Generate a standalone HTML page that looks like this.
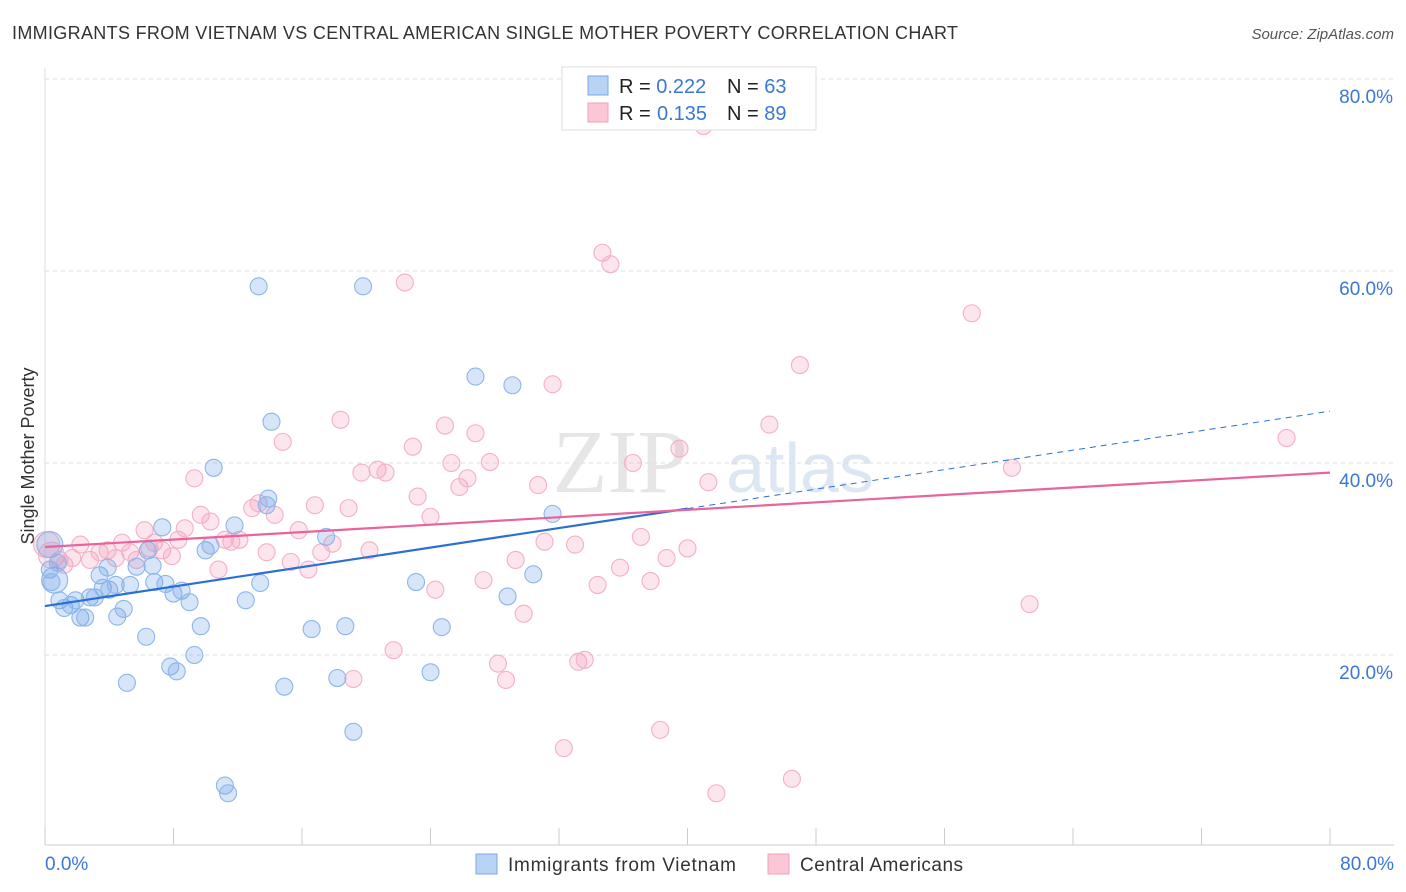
<!DOCTYPE html>
<html><head><meta charset="utf-8"><style>
body{margin:0;background:#fff;font-family:"Liberation Sans",sans-serif;}
#wrap{position:relative;width:1406px;height:892px;overflow:hidden;}
</style></head><body>
<div id="wrap">
<svg id="svg" width="1406" height="892" xmlns="http://www.w3.org/2000/svg">
<text x="12" y="39" font-size="18" fill="#333" textLength="946">IMMIGRANTS FROM VIETNAM VS CENTRAL AMERICAN SINGLE MOTHER POVERTY CORRELATION CHART</text>
<text x="1394" y="39" font-size="15" fill="#555" font-style="italic" text-anchor="end">Source: ZipAtlas.com</text>
<text x="620" y="492" font-size="90" fill="#e6e6e6" font-family="Liberation Serif,serif" text-anchor="middle">ZIP</text>
<text x="800" y="492" font-size="70" fill="#dde6f3" text-anchor="middle">atlas</text>
<text x="34" y="456" font-size="18" fill="#333" text-anchor="middle" transform="rotate(-90 34 456)">Single Mother Poverty</text>
<g id="grid"></g><g id="marks"></g><g id="trend"></g>
<g>
<rect x="562" y="67" width="254" height="63" fill="#fff" stroke="#ddd"/>
<rect x="588" y="76" width="20" height="19" fill="#b9d3f5" stroke="#7aa7e6"/>
<rect x="588" y="103" width="20" height="19" fill="#fbc7d6" stroke="#f0a0b8"/>
<text x="619" y="93" font-size="20" fill="#222">R = <tspan fill="#3a78d4">0.222</tspan><tspan x="727">N = </tspan><tspan fill="#3a78d4">63</tspan></text>
<text x="619" y="120" font-size="20" fill="#222">R = <tspan x="657" fill="#3a78d4">0.135</tspan><tspan x="727">N = </tspan><tspan fill="#3a78d4">89</tspan></text>
</g>
<g>
<rect x="476" y="854" width="21" height="20" fill="#b9d3f5" stroke="#7aa7e6"/>
<text x="508" y="871" font-size="19" fill="#333" textLength="228">Immigrants from Vietnam</text>
<rect x="768" y="854" width="21" height="20" fill="#fbc7d6" stroke="#f0a0b8"/>
<text x="800" y="871" font-size="19" fill="#333" textLength="163">Central Americans</text>
</g>
</svg>
</div>
<script>
const yTicks=[20,40,60,80];
const yTickLabels=["20.0%","40.0%","60.0%","80.0%"];
const xTickVals=[0,8,16,24,32,40,48,56,64,72,80];
const xEndLabels=["0.0%","80.0%"];
const blueX=[0.3,0.6,0.9,1.2,1.6,1.9,2.2,2.5,2.8,3.1,3.4,3.6,3.9,4.0,4.4,4.5,4.9,5.1,5.3,5.7,6.3,6.4,6.7,6.8,7.3,7.5,7.8,8.0,8.2,8.5,9.0,9.3,9.7,10.0,10.3,10.5,11.2,11.4,11.8,12.5,13.3,13.4,13.8,13.9,14.1,14.9,16.6,17.5,18.2,18.7,19.2,19.8,23.1,24.0,24.7,26.8,28.8,29.1,30.4,31.6,0.3,0.4,0.8];
const blueY=[31.5,27.8,25.7,24.9,25.2,25.7,23.9,23.9,26.0,26.0,28.3,27.0,29.1,26.8,27.3,24.0,24.8,17.1,27.3,29.2,21.9,30.9,29.3,27.6,33.3,27.4,18.8,26.4,18.3,26.7,25.5,20.0,23.0,30.9,31.4,39.5,6.4,5.6,33.5,25.7,58.4,27.5,35.6,36.3,44.3,16.7,22.7,32.3,17.6,23.0,12.0,58.4,27.6,18.2,22.9,49.0,26.1,48.1,28.4,34.7,28.9,27.6,29.6];
const pinkX=[0.1,0.4,0.9,1.2,1.7,2.2,2.8,3.4,3.9,4.4,4.8,5.3,5.7,6.2,6.5,6.8,7.3,7.9,8.3,8.7,9.3,9.7,10.3,10.8,11.2,11.6,12.1,12.9,13.3,13.8,14.3,14.8,15.3,15.8,16.4,16.8,17.2,17.9,18.4,18.9,19.2,19.7,20.2,20.7,21.2,21.7,22.4,22.9,23.2,24.0,24.3,24.9,25.3,25.8,26.3,26.8,27.3,27.7,28.2,28.7,29.3,29.8,30.7,31.1,31.6,32.3,33.0,33.2,33.6,34.4,34.7,35.2,35.8,36.6,37.1,37.7,38.3,38.7,39.5,40.0,41.0,41.3,41.8,45.1,46.5,47.0,57.7,60.2,61.3,77.3];
const pinkY=[31.5,30.4,29.9,29.4,30.1,31.5,29.9,30.7,30.9,30.1,31.7,30.7,29.9,33.0,31.1,31.7,30.9,30.3,32.0,33.2,38.4,34.6,33.9,28.9,32.0,31.8,32.0,35.3,35.8,30.7,34.6,42.2,29.7,33.0,28.9,35.6,30.7,31.6,44.5,35.3,17.5,39.0,30.9,39.3,39.0,20.5,58.8,41.7,36.5,34.4,26.8,43.9,40.0,37.5,38.4,43.1,27.8,40.1,19.1,17.4,29.9,24.3,37.7,31.8,48.2,10.3,31.5,19.3,19.5,27.3,61.9,60.7,29.1,40.0,32.3,27.7,12.2,30.1,41.5,31.1,75.1,38.0,5.6,44.0,7.1,50.2,55.6,39.5,25.3,42.6];
const blueTrend=[25.1,45.4];
const pinkTrend=[31.25,39.0];
const blueSolidEnd=40;
const X0=45,X1=1330,Y0=847,PX_PER=9.6;
const sx=v=>X0+v*(X1-X0)/80;
const sy=v=>Y0-v*PX_PER;
const NS="http://www.w3.org/2000/svg";
function mk(tag,attrs,parent){const e=document.createElementNS(NS,tag);for(const k in attrs)e.setAttribute(k,attrs[k]);parent.appendChild(e);return e;}
const grid=document.getElementById('grid'),marks=document.getElementById('marks'),trend=document.getElementById('trend');
yTicks.forEach((t,i)=>{
 const l=mk('line',{x1:X0,x2:1394,y1:sy(t),y2:sy(t),stroke:'#ddd','stroke-dasharray':'4,4'},grid);
 
 
 const tx=mk('text',{x:1393,y:sy(t)+24,'font-size':19,fill:'#3a78d4','text-anchor':'end'},grid);
 tx.textContent=yTickLabels[i];
 
 
});
const ax=mk('line',{x1:X0,x2:1394,y1:845,y2:845,stroke:'#ccc'},grid);


const ay=mk('line',{x1:X0,x2:X0,y1:68,y2:845,stroke:'#ddd'},grid);


xTickVals.forEach(t=>{
 const l=mk('line',{x1:sx(t),x2:sx(t),y1:828,y2:845,stroke:'#ccc'},grid);
 
 
});
[[0,'start',45],[80,'end',1394]].forEach((d,i)=>{
 const tx=mk('text',{x:d[2],y:870,'font-size':19,fill:'#3a78d4','text-anchor':d[1]},grid);
 tx.textContent=xEndLabels[i];
 
 
});
function pts(xs,ys,fill,stroke,name){
 xs.forEach((x,i)=>{
  const r=(i<2)?13:8.5;
  const c=mk('circle',{cx:sx(x),cy:sy(ys[i]),r:r,fill:fill,stroke:stroke,'stroke-width':1.1},marks);
  
  
 });
}
pts(pinkX,pinkY,'rgba(244,150,180,0.25)','#f4b0c6','point-central-american');
pts(blueX,blueY,'rgba(110,160,235,0.28)','#8db6ea','point-vietnam');
const by=x=>blueTrend[0]+(blueTrend[1]-blueTrend[0])*x/80;
const b1=mk('line',{x1:sx(0),y1:sy(by(0)),x2:sx(blueSolidEnd),y2:sy(by(blueSolidEnd)),stroke:'#2a6fd6','stroke-width':2.2},trend);


const b2=mk('line',{x1:sx(blueSolidEnd),y1:sy(by(blueSolidEnd)),x2:sx(80),y2:sy(by(80)),stroke:'#2a6fd6','stroke-width':1,'stroke-dasharray':'6,5'},trend);


const p1=mk('line',{x1:sx(0),y1:sy(pinkTrend[0]),x2:sx(80),y2:sy(pinkTrend[1]),stroke:'#e8649a','stroke-width':2.2},trend);


</script>
</body></html>
